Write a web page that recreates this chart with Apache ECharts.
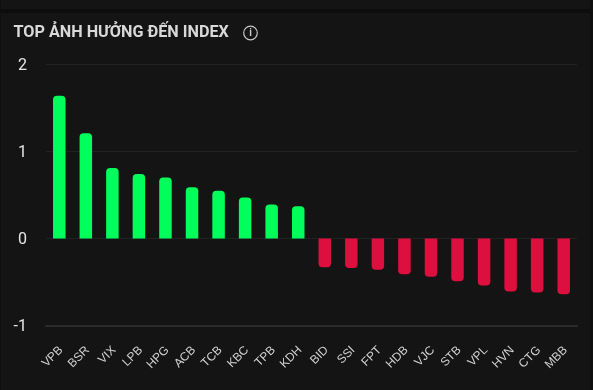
<!DOCTYPE html>
<html><head><meta charset="utf-8">
<style>html,body{margin:0;padding:0;background:#141414}#c{width:593px;height:390px}</style>
<script src="https://cdn.jsdelivr.net/npm/echarts@6/dist/echarts.min.js"></script>
</head><body><div id="c"></div>
<script>
const categories=["VPB","BSR","VIX","LPB","HPG","ACB","TCB","KBC","TPB","KDH","BID","SSI","FPT","HDB","VJC","STB","VPL","HVN","CTG","MBB"];
const values=[1.64,1.21,0.81,0.74,0.7,0.59,0.55,0.47,0.39,0.37,-0.33,-0.34,-0.36,-0.41,-0.44,-0.49,-0.54,-0.61,-0.62,-0.64];
const chartTitle="TOP ẢNH HƯỞNG ĐẾN INDEX";
const chart=echarts.init(document.getElementById('c'),null,{renderer:'canvas'});
chart.setOption({
  animation:false,
  backgroundColor:'#141414',
  title:{text:chartTitle,left:8.5,top:20,textStyle:{color:'#d9d9d9',fontFamily:'Roboto',fontWeight:'bold',fontSize:16.2}},
  grid:{left:46,right:16,top:64.5,bottom:64.5},
  graphic:[
    {type:'rect',shape:{x:0,y:9,width:593,height:4},style:{fill:'#0d0d0d'},silent:true},
    {type:'rect',shape:{x:0,y:0,width:1,height:390},style:{fill:'#0f0f0f'},silent:true},
    {type:'rect',shape:{x:590,y:0,width:3,height:390},style:{fill:'#0f0f0f'},silent:true},
    {type:'circle',shape:{cx:250.5,cy:33,r:6.8},style:{fill:'none',stroke:'#c8c8c8',lineWidth:1.2},silent:true},
    {type:'text',x:250.5,y:33,style:{text:'i',fill:'#c8c8c8',font:'bold 10px Roboto',align:'center',verticalAlign:'middle'},silent:true}
  ],
  xAxis:{type:'category',data:categories,
    axisLine:{show:true,onZero:false,lineStyle:{color:'#2b2b2b',width:2}},axisTick:{show:false},
    axisLabel:{interval:0,rotate:45,margin:21,formatter:v=>'{a|'+v+'}',
      rich:{a:{color:'#d0d0d0',fontFamily:'Liberation Sans',fontSize:12,padding:[5,0,0,0]}}}},
  yAxis:{type:'value',min:-1,max:2,interval:1,
    axisLabel:{margin:19,formatter:v=>'{a|'+v+'}',
      rich:{a:{color:'#e6e6e6',fontFamily:'Roboto',fontSize:16,padding:[3,0,0,0]}}},
    axisLine:{show:false},axisTick:{show:false},
    splitLine:{lineStyle:{color:'#222222',width:1}}},
  series:[{type:'bar',data:values.map(v=>({value:v,itemStyle:{
      color:v>=0?'#00ff5a':'#dc0f3f',
      borderRadius:v>=0?[4,4,0,0]:[0,0,4,4]}})),barWidth:12.5}]
});
</script></body></html>
